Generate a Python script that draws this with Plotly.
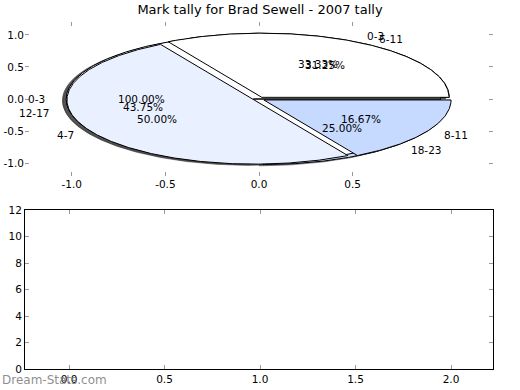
import numpy as np
import plotly.graph_objects as go

# ---------------- data ----------------
TITLE = "Mark tally for Brad Sewell - 2007 tally"

PIE1_LABELS = ["0-3"]
PIE1_VALUES = [1]

PIE2_LABELS = ["6-11", "12-17", "18-23"]
PIE2_VALUES = [5, 7, 4]

PIE3_LABELS = ["0-3", "4-7", "8-11"]
PIE3_VALUES = [2, 3, 1]

TOP_X_TICKS = [-1.0, -0.5, 0.0, 0.5]
TOP_X_TICKTEXT = ["-1.0", "-0.5", "0.0", "0.5"]
TOP_Y_TICKS = [-1.0, -0.5, 0.0, 0.5, 1.0]
TOP_Y_TICKTEXT = ["-1.0", "-0.5", "0.0", "0.5", "1.0"]

BOT_X_TICKS = [0.0, 0.5, 1.0, 1.5, 2.0]
BOT_X_TICKTEXT = ["0.0", "0.5", "1.0", "1.5", "2.0"]
BOT_Y_TICKS = [0, 2, 4, 6, 8, 10, 12]

WATERMARK = "Dream-Stats.com"

# ---------------- style ----------------
W, H = 520, 390
FONT = "DejaVu Sans"
PALETTE = ["#ffffff", "#e9f0ff", "#c6d9ff"]
EXPLODE = 0.03
SHADOW_OFF = -0.02


def px_x(p):
    return p / W


def px_y(p):
    return 1 - p / H


fig = go.Figure()

# drawing order of the pies (the single-slice pie sits between the others)
pies = [
    (PIE2_LABELS, PIE2_VALUES),
    (PIE1_LABELS, PIE1_VALUES),
    (PIE3_LABELS, PIE3_VALUES),
]


def wedge_poly(cx, cy, t1, t2, r=1.0):
    n = max(int(abs(t2 - t1)), 2) * 2
    th = np.radians(np.linspace(t1, t2, n))
    xs = np.concatenate([[cx], cx + r * np.cos(th), [cx]])
    ys = np.concatenate([[cy], cy + r * np.sin(th), [cy]])
    return xs, ys


wedges = []  # (xs, ys, color)
texts = []  # (x, y, text, anchor)
for labels, values in pies:
    vals = np.asarray(values, dtype=float)
    frac = vals / vals.sum()
    t = 0.0
    for k, f in enumerate(frac):
        t1, t2 = 360 * t, 360 * (t + f)
        mid = np.radians((t1 + t2) / 2)
        cx, cy = EXPLODE * np.cos(mid), EXPLODE * np.sin(mid)
        xs, ys = wedge_poly(cx, cy, t1, t2)
        wedges.append((xs, ys, PALETTE[k % len(PALETTE)]))
        lx, ly = cx + 1.1 * np.cos(mid), cy + 1.1 * np.sin(mid)
        texts.append((lx, ly, labels[k], "left" if lx > 0 else "right"))
        qx, qy = cx + 0.6 * np.cos(mid), cy + 0.6 * np.sin(mid)
        texts.append((qx, qy, "%.2f%%" % (100 * f), "center"))
        t += f

# shadows (below all wedges)
for xs, ys, col in wedges:
    fig.add_trace(go.Scatter(
        x=xs + SHADOW_OFF, y=ys + SHADOW_OFF, mode="lines", fill="toself",
        fillcolor="rgba(60,60,60,0.5)", line=dict(color="rgba(60,60,60,0.5)", width=1),
        hoverinfo="skip", showlegend=False, xaxis="x", yaxis="y"))

for xs, ys, col in wedges:
    fig.add_trace(go.Scatter(
        x=xs, y=ys, mode="lines", fill="toself", fillcolor=col,
        line=dict(color="black", width=1), hoverinfo="skip",
        showlegend=False, xaxis="x", yaxis="y"))

for x, y, s, anc in texts:
    fig.add_annotation(x=x, y=y, xref="x", yref="y", text=s, showarrow=False,
                       xanchor=anc, yanchor="middle",
                       font=dict(family=FONT, size=10.5, color="black"))

# empty bottom axes
fig.add_trace(go.Scatter(x=[None], y=[None], xaxis="x2", yaxis="y2",
                         showlegend=False, hoverinfo="skip"))

tick_style = dict(ticks="inside", ticklen=4, tickwidth=1, tickcolor="#999999",
                  showgrid=False, zeroline=False, automargin=False,
                  tickfont=dict(family=FONT, size=10.5, color="black"))

fig.update_layout(
    width=W, height=H, autosize=False,
    margin=dict(l=0, r=0, t=0, b=0, pad=0, autoexpand=False),
    paper_bgcolor="white", plot_bgcolor="white",
    showlegend=False, hovermode=False,
    title=dict(text=TITLE, x=px_x(260), xanchor="center", y=px_y(9.5), yanchor="middle",
               automargin=False,
               font=dict(family=FONT, size=13, color="black")),
    xaxis=dict(domain=[px_x(25), px_x(493)], range=[-1.25, 1.25],
               tickvals=TOP_X_TICKS, ticktext=TOP_X_TICKTEXT,
               showline=False, mirror="allticks", anchor="y", **tick_style),
    yaxis=dict(domain=[px_y(176), px_y(22)], range=[-1.2, 1.2],
               tickvals=TOP_Y_TICKS, ticktext=TOP_Y_TICKTEXT,
               showline=False, mirror="allticks", anchor="x", **tick_style),
    xaxis2=dict(domain=[px_x(25), px_x(493)], range=[-0.2304, 2.2199],
                tickvals=BOT_X_TICKS, ticktext=BOT_X_TICKTEXT,
                showline=True, linecolor="black", linewidth=1,
                mirror="allticks", anchor="y2", **tick_style),
    yaxis2=dict(domain=[px_y(369), px_y(210)], range=[0, 12],
                tickvals=BOT_Y_TICKS,
                showline=True, linecolor="black", linewidth=1,
                mirror="allticks", anchor="x2", **tick_style),
)

fig.add_annotation(x=0, y=px_y(380), xref="paper", yref="paper", text=WATERMARK,
                   showarrow=False, xanchor="left", yanchor="middle",
                   font=dict(family=FONT, size=12, color="rgba(120,120,120,0.85)"))

# remove the browser's default page margin so the figure sits at the top-left corner
fig.write_html("out.html",
               config={"displayModeBar": False, "responsive": False},
               post_script="document.body.style.margin='0px';document.body.style.padding='0px';")
